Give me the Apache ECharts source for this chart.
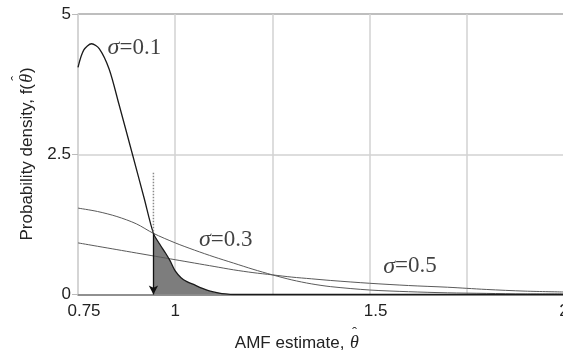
<!DOCTYPE html>
<html><head><meta charset="utf-8">
<script src="https://cdn.jsdelivr.net/npm/echarts@6/dist/echarts.min.js"></script>
<style>html,body{margin:0;padding:0;background:#fff}#c{width:563px;height:351px}</style>
</head><body><div id="c"></div>
<script>
// tick labels
const xTickLabels = [0.75, 1, 1.5, 2];
const yTickLabels = [0, 2.5, 5];
// sigma = 0.1
const s01X = [0.75, 0.765, 0.785, 0.805, 0.83, 0.855, 0.89, 0.92, 0.944, 0.96, 0.975, 0.987, 1.0, 1.015, 1.03, 1.05, 1.07, 1.09, 1.11, 1.13, 1.15, 1.3, 1.6, 2.0];
const s01Y = [4.05, 4.36, 4.47, 4.38, 4.02, 3.4, 2.5, 1.72, 1.09, 0.9, 0.74, 0.6, 0.42, 0.3, 0.23, 0.17, 0.11, 0.06, 0.03, 0.01, 0.0, 0.0, 0.0, 0.0];
// sigma = 0.3
const s03X = [0.75, 0.8, 0.85, 0.9, 0.944, 1.0, 1.05, 1.1, 1.15, 1.2, 1.25, 1.3, 1.35, 1.4, 1.5, 1.6, 1.7, 1.8, 1.9, 2.0];
const s03Y = [1.54, 1.48, 1.39, 1.26, 1.09, 0.92, 0.79, 0.67, 0.56, 0.45, 0.35, 0.26, 0.19, 0.14, 0.08, 0.05, 0.03, 0.02, 0.01, 0.01];
// sigma = 0.5
const s05X = [0.75, 0.8, 0.85, 0.9, 0.95, 1.0, 1.05, 1.1, 1.15, 1.2, 1.25, 1.3, 1.35, 1.4, 1.5, 1.6, 1.7, 1.75, 1.8, 1.9, 2.0];
const s05Y = [0.92, 0.86, 0.8, 0.74, 0.68, 0.62, 0.56, 0.5, 0.44, 0.39, 0.35, 0.31, 0.28, 0.25, 0.2, 0.16, 0.13, 0.11, 0.09, 0.06, 0.045];
// threshold marker
const cutX = 0.944;
const cutTop = 2.17;
const cutY = 1.09;
// annotations
const annText = ['0.1', '0.3', '0.5'];
const annX = [0.895, 1.13, 1.604];
const annY = [4.40, 0.97, 0.50];

const pairs = (xs, ys) => xs.map((x, i) => [x, ys[i]]);
const shadeData = pairs(s01X, s01Y).filter(p => p[0] >= cutX && p[0] <= 1.15);

const chart = echarts.init(document.getElementById('c'), null, {renderer: 'canvas'});
const sansFont = '"Liberation Sans", Arial, sans-serif';
const serifFont = '"Liberation Serif", "Times New Roman", serif';

const hatRich = (w) => ({
  p: {width: w, height: 1, lineHeight: 2},
  h: {width: 10, align: 'center', fontFamily: serifFont, fontSize: 15, lineHeight: 2, color: '#222'},
  q: {width: 6, height: 1, lineHeight: 2},
  b: {width: w, align: 'right', fontFamily: sansFont, fontSize: 17, color: '#222'},
  t: {width: 10, align: 'center', fontFamily: serifFont, fontStyle: 'italic', fontSize: 18, color: '#222'},
  c: {width: 6, align: 'left', fontFamily: sansFont, fontSize: 17, color: '#222'}
});

chart.setOption({
  animation: false,
  backgroundColor: '#fff',
  grid: {left: 78, top: 14, width: 486, height: 280.5, containLabel: false, outerBoundsMode: 'none'},
  xAxis: {
    type: 'value', min: 0.75, max: 2, interval: 0.25,
    axisLine: {show: true, lineStyle: {color: '#777', width: 1.5}},
    axisTick: {show: false},
    splitLine: {show: true, lineStyle: {color: '#d2d2d2', width: 1.5}},
    axisLabel: {
      show: true, margin: 8, color: '#222', fontFamily: sansFont, fontSize: 17,
      hideOverlap: false, showMaxLabel: true, showMinLabel: true,
      formatter: v => {
        const r = Math.round(v * 100) / 100;
        if (!xTickLabels.includes(r)) return '';
        return (r === 0.75 || r === 1.5) ? '{o|' + r + '}' : String(r);
      },
      rich: {o: {fontFamily: sansFont, fontSize: 17, color: '#222', padding: [0, 0, 0, 12]}}
    },
    name: '{p|}{h|ˆ}\n{b|AMF estimate, }{t|θ}',
    nameLocation: 'middle', nameGap: 25,
    nameTextStyle: {color: '#222', fontFamily: sansFont, fontSize: 17, padding: [0, 48, 0, 0],
      rich: hatRich(115)}
  },
  yAxis: {
    type: 'value', min: 0, max: 5, interval: 2.5,
    axisLine: {show: true, lineStyle: {color: '#d2d2d2', width: 1.5}},
    axisTick: {show: true, length: 6, lineStyle: {color: '#bbb'}},
    splitLine: {show: true, lineStyle: {color: ['#d2d2d2', '#d2d2d2', '#a8a8a8'], width: 1.5}},
    axisLabel: {
      margin: 7, color: '#222', fontFamily: sansFont, fontSize: 17,
      formatter: v => yTickLabels.includes(v) ? String(v) : ''
    },
    name: '{p|}{h|ˆ}{q|}\n{b|Probability density, f(}{t|θ}{c|)}',
    nameLocation: 'middle', nameGap: 42,
    nameTextStyle: {color: '#222', fontFamily: sansFont, fontSize: 17,
      rich: hatRich(158)}
  },
  series: [
    {
      name: 'shade', type: 'line', data: shadeData, symbol: 'none', smooth: 0.3,
      lineStyle: {width: 0}, areaStyle: {color: '#7d7d7d', opacity: 1}, z: 2
    },
    {
      name: 'σ=0.5', type: 'line', data: pairs(s05X, s05Y), symbol: 'none', smooth: 0.3,
      lineStyle: {color: '#5a5a5a', width: 1}, z: 3
    },
    {
      name: 'σ=0.3', type: 'line', data: pairs(s03X, s03Y), symbol: 'none', smooth: 0.3,
      lineStyle: {color: '#5a5a5a', width: 1}, z: 3
    },
    {
      name: 'σ=0.1', type: 'line', data: pairs(s01X, s01Y), symbol: 'none', smooth: 0.3,
      lineStyle: {color: '#1a1a1a', width: 1.3}, z: 4
    },
    {
      name: 'cut', type: 'line', data: [[cutX, cutTop], [cutX, cutY]], symbol: 'none',
      lineStyle: {color: '#8a8a8a', width: 1.5, type: [1.5, 1.5]}, z: 4,
      markLine: {
        silent: true, symbol: ['none', 'arrow'], symbolSize: [7, 9],
        label: {show: false},
        lineStyle: {color: '#111', width: 1.3, type: 'solid'},
        data: [[{coord: [cutX, cutY]}, {coord: [cutX, 0]}]]
      }
    },
    {
      name: 'labels', type: 'scatter', symbolSize: 0, z: 5,
      data: annText.map((t, i) => ({value: [annX[i], annY[i]], name: t})),
      label: {
        show: true, position: 'inside',
        formatter: p => '{s|σ}{n|=' + p.name + '}',
        rich: {
          s: {fontFamily: serifFont, fontStyle: 'italic', fontSize: 24, color: '#111'},
          n: {fontFamily: serifFont, fontSize: 23, color: '#111'}
        }
      }
    }
  ]
});
</script></body></html>
